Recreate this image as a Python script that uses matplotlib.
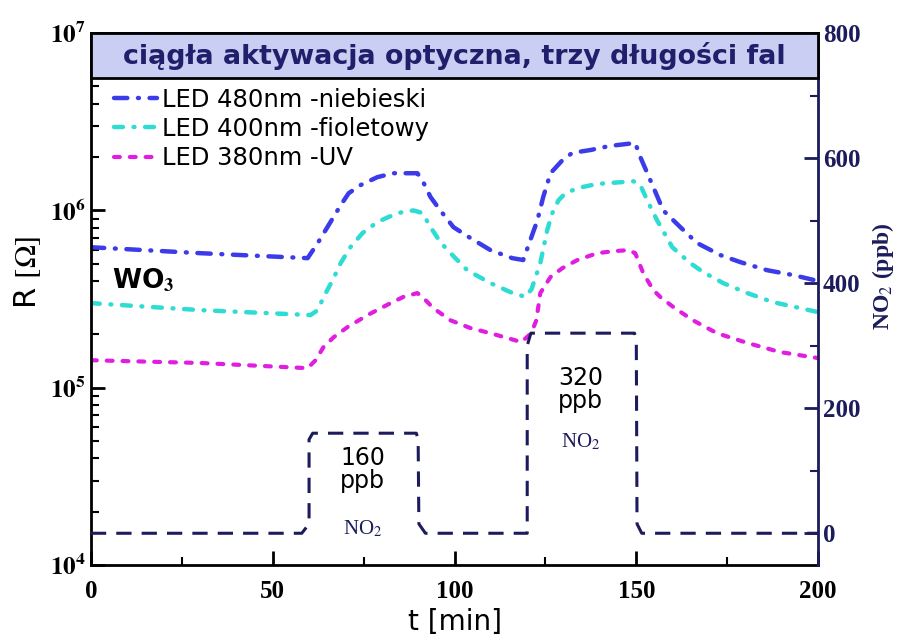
import matplotlib
matplotlib.use("Agg")
import matplotlib.pyplot as plt
from matplotlib.patches import Rectangle

plt.rcParams['mathtext.fontset'] = 'stix'

# Rezystancja WO3 w czasie (t w minutach, R w omach)
t_niebieski = [0, 30, 59.6, 62.4, 65.9, 68.7, 70.9, 74.2, 78.8, 83.2, 89.8, 91.5, 93.4, 96.1, 99.7,
               104.4, 109.9, 115.9, 118.9, 122.8, 124.4, 126.4, 129.7, 132.4, 137.4, 142.8, 149.7,
               151.1, 154.7, 157.4, 162.1, 166.7, 173.1, 178.6, 186, 193.1, 200]
r_niebieski = [6.2e5, 5.74e5, 5.38e5, 6.55e5, 8.6e5, 1.07e6, 1.25e6, 1.39e6, 1.54e6, 1.62e6, 1.62e6,
               1.43e6, 1.19e6, 1.0e6, 8.05e5, 6.98e5, 5.97e5, 5.38e5, 5.25e5, 8.8e5, 1.19e6, 1.62e6,
               1.92e6, 2.11e6, 2.19e6, 2.31e6, 2.4e6, 2.0e6, 1.35e6, 1.0e6, 8.05e5, 6.55e5, 5.6e5,
               5.11e5, 4.6e5, 4.32e5, 4.0e5]

t_fiolet = [0, 30.2, 60.4, 62.4, 64.0, 66.5, 68.7, 71.4, 74.7, 78.8, 84.3, 88.7, 91.2, 93.4, 96.1,
            98.9, 103.5, 109.9, 115.4, 119.5, 121.2, 123.6, 125.5, 126.9, 128.6, 130.5, 134.1, 139.3,
            149.2, 151.1, 153, 155.7, 159.9, 164.8, 168.4, 173.9, 180.5, 187.6, 200]
r_fiolet = [3.0e5, 2.74e5, 2.57e5, 2.74e5, 3.25e5, 4.05e5, 5.05e5, 6.21e5, 7.45e5, 8.6e5, 9.66e5,
            1.0e6, 9.66e5, 8.05e5, 6.63e5, 5.74e5, 4.6e5, 3.89e5, 3.46e5, 3.25e5, 3.6e5, 5.05e5,
            7.74e5, 9.66e5, 1.14e6, 1.25e6, 1.34e6, 1.41e6, 1.46e6, 1.39e6, 1.14e6, 8.8e5, 6.2e5,
            5.05e5, 4.49e5, 3.89e5, 3.42e5, 3.04e5, 2.67e5]

t_uv = [0, 30, 59.6, 61.8, 64.0, 66.8, 70.6, 76.1, 82.4, 85.9, 89.8, 91.5, 94.2, 98.9, 104.4, 109.9,
        118.4, 121.1, 122.5, 123.6, 126.4, 129.7, 133.8, 139.3, 143.7, 147.8, 149.7, 151.9, 154.7,
        156.6, 160.2, 165.6, 172.2, 180.5, 189.5, 200]
r_uv = [1.43e5, 1.38e5, 1.29e5, 1.43e5, 1.70e5, 1.93e5, 2.2e5, 2.57e5, 3.0e5, 3.25e5, 3.42e5, 3.2e5,
        2.81e5, 2.4e5, 2.17e5, 2.03e5, 1.81e5, 2.03e5, 2.4e5, 3.42e5, 4.21e5, 4.73e5, 5.25e5, 5.74e5,
        5.89e5, 5.97e5, 5.74e5, 4.43e5, 3.55e5, 3.25e5, 2.85e5, 2.4e5, 2.03e5, 1.79e5, 1.59e5, 1.47e5]

# Stezenie NO2 (ppb)
t_no2 = [0, 58, 60, 60, 61, 89.5, 90, 90.2, 92, 120, 120, 121, 149.5, 150, 150.2, 151.5, 200]
c_no2 = [0, 0, 15, 150, 160, 160, 150, 15, 0, 0, 300, 320, 320, 310, 15, 0, 0]

etykiety = ['LED 480nm -niebieski', 'LED 400nm -fioletowy', 'LED 380nm -UV']
granat = '#1c1c5c'

fig = plt.figure(figsize=(9.09, 6.35), dpi=100)
ax = fig.add_axes([0.100, 0.110, 0.800, 0.838])
ax2 = ax.twinx()

ax.plot(t_niebieski, r_niebieski, color='#3b3bea', lw=3.2, dashes=(3.0, 2.4, 0.2, 2.4),
        dash_capstyle='round', label=etykiety[0])
ax.plot(t_fiolet, r_fiolet, color='#2fdcd4', lw=3.2, dashes=(2.0, 2.4, 0.2, 2.4),
        dash_capstyle='round', label=etykiety[1])
ax.plot(t_uv, r_uv, color='#e01ee0', lw=3.0, dashes=(1.4, 2.4),
        dash_capstyle='round', label=etykiety[2])

ax.set_yscale('log')
ax.set_ylim(1e4, 1e7)
ax.set_xlim(0, 200)
ax.set_yticks([1e4, 1e5, 1e6, 1e7],
              labels=[r'$\mathbf{10^{4}}$', r'$\mathbf{10^{5}}$', r'$\mathbf{10^{6}}$', r'$\mathbf{10^{7}}$'])
ax.set_xticks([0, 50, 100, 150, 200])
ax.set_xticks([25, 75, 125, 175], minor=True)
for lab in ax.get_xticklabels():
    lab.set_fontfamily('Liberation Serif')
    lab.set_fontweight('bold')
ax.tick_params(axis='both', which='major', direction='in', length=10, width=2, labelsize=18)
ax.tick_params(axis='both', which='minor', direction='in', length=6, width=1.5)
ax.tick_params(axis='y', which='minor', labelleft=False)
ax.tick_params(axis='x', pad=11)

ax.set_xlabel('t [min]', fontsize=20, labelpad=3)
ax.set_ylabel(r'R $[\Omega]$', fontsize=22)
ax.yaxis.set_label_coords(-0.066, 0.551)

for s in ['left', 'bottom', 'top']:
    ax.spines[s].set_linewidth(2)

ax2.plot(t_no2, c_no2, color=granat, lw=2.2, dashes=(5, 3.3))
ax2.set_ylim(-51, 800)
ax2.set_yticks([0, 200, 400, 600, 800])
ax2.set_yticks([100, 300, 500, 700], minor=True)
ax2.tick_params(axis='y', which='major', direction='in', length=10, width=2, colors=granat, labelsize=18)
ax2.tick_params(axis='y', which='minor', direction='in', length=6, width=1.5, colors=granat)
for lab in ax2.get_yticklabels():
    lab.set_fontfamily('Liberation Serif')
    lab.set_fontweight('bold')
ax2.spines['right'].set_color(granat)
ax2.spines['right'].set_linewidth(2)
for s in ['left', 'bottom', 'top']:
    ax2.spines[s].set_visible(False)
ax2.set_ylabel(r'NO$_2$ (ppb)', color=granat, fontsize=17, fontfamily='Liberation Serif',
               fontweight='bold')
ax2.yaxis.set_label_coords(1.071, 0.543)

# pasek z tytulem u gory wykresu
ax2.add_patch(Rectangle((0, 0.915), 1, 0.085, transform=ax2.transAxes, facecolor='#c9cef2',
                        edgecolor='black', lw=2, zorder=5, clip_on=False))
ax2.text(0.5, 0.957, 'ciągła aktywacja optyczna, trzy długości fal', transform=ax2.transAxes,
         ha='center', va='center', fontsize=19.4, fontweight='bold', color='#1f1f6b', zorder=6)

ax2.text(0.029, 0.535, r'WO$_\mathbf{3}$', transform=ax2.transAxes, fontsize=19, fontweight='bold',
         va='center', ha='left')
ax2.text(74.7, 140, '160\nppb', ha='center', va='top', fontsize=17, linespacing=0.95)
ax2.text(74.7, -10, r'NO$_2$', ha='center', va='bottom', fontsize=15, color=granat,
         fontfamily='Liberation Serif')
ax2.text(134.6, 268, '320\nppb', ha='center', va='top', fontsize=17, linespacing=0.95)
ax2.text(134.6, 130, r'NO$_2$', ha='center', va='bottom', fontsize=15, color=granat,
         fontfamily='Liberation Serif')

leg = ax.legend(loc='upper left', bbox_to_anchor=(0.012, 0.925), frameon=False, fontsize=17.5,
                handlelength=1.75, handletextpad=0.2, labelspacing=0.22, borderpad=0.1)

fig.savefig('out.png', dpi=100)
